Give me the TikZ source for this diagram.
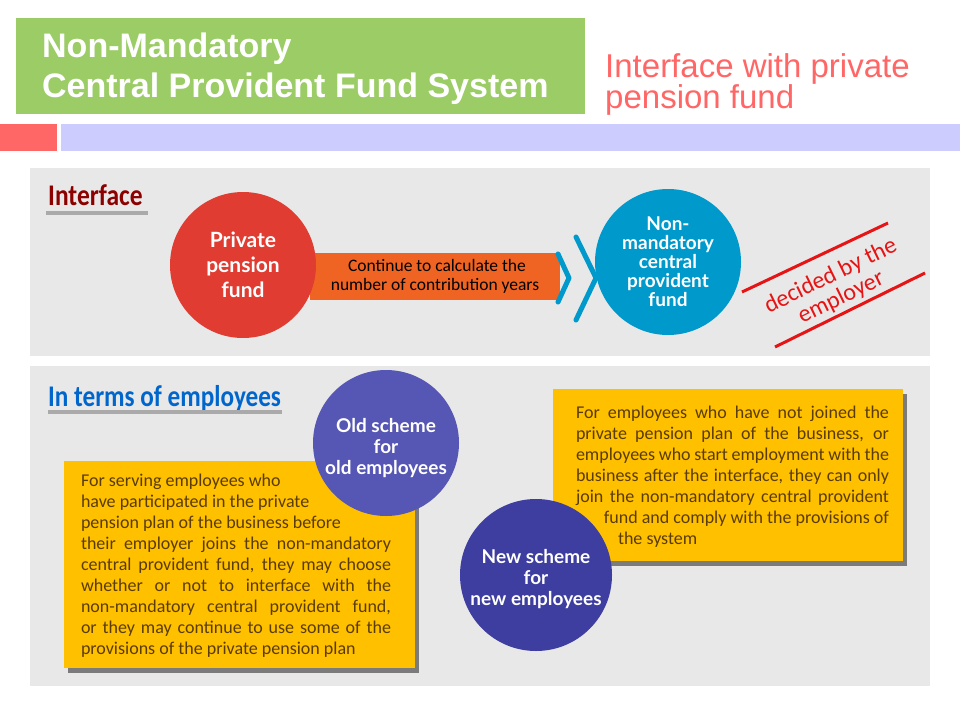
\documentclass[tikz,border=0pt]{standalone}
\usepackage{fontspec}
\setmainfont{Carlito}
\newfontfamily\headfont{Liberation Sans}
\newfontfamily\roundfont{Lato}
\usetikzlibrary{positioning,calc,shadows}
\definecolor{TITLE-GREEN}{RGB}{155,204,102}
\definecolor{TITLE-RED}{RGB}{255,102,102}
\definecolor{BAR-LILAC}{RGB}{204,204,255}
\definecolor{PANEL-GREY}{RGB}{232,232,232}
\definecolor{RULE-GREY}{RGB}{170,170,170}
\definecolor{HEAD-RED}{RGB}{140,0,0}
\definecolor{HEAD-BLUE}{RGB}{0,102,204}
\definecolor{DOT-RED}{RGB}{224,60,50}
\definecolor{DOT-BLUE}{RGB}{0,153,204}
\definecolor{DOT-PURPLE}{RGB}{86,86,180}
\definecolor{DOT-NAVY}{RGB}{62,62,160}
\definecolor{BAR-ORANGE}{RGB}{240,100,35}
\definecolor{NOTE-YELLOW}{RGB}{255,192,0}
\definecolor{NOTE-TEXT}{RGB}{90,60,0}
\definecolor{STAMP-RED}{RGB}{230,20,20}

\begin{document}
\begin{tikzpicture}[x=1pt,y=-1pt,
  bigdot/.style={circle, inner sep=0pt, align=center, text=white},
  dotlabel/.style={inner sep=0pt, align=center, text=white,
    font=\roundfont\bfseries\fontsize{19}{21}\selectfont},
  heading/.style={anchor=north west, inner sep=0pt, font=\bfseries\fontsize{30}{34}\selectfont},
  headrule/.style={RULE-GREY, line width=4pt},
  notebox/.style={fill=NOTE-YELLOW, inner sep=0pt,
    drop shadow={shadow xshift=4pt, shadow yshift=-5pt, fill=black!80, opacity=0.6}},
  notetext/.style={anchor=north west, inner sep=0pt, align=left, text=NOTE-TEXT,
    font=\fontsize{18}{21}\selectfont},
  chevron/.style={DOT-BLUE, line width=5pt, line cap=round, line join=round}]
  \useasboundingbox (0,0) rectangle (960,720);
  \fill[white] (0,0) rectangle (960,720);

  % Title bar
  \fill[TITLE-GREEN] (16,18) rectangle (585,114);
  \node[anchor=north west, inner sep=0pt, align=left, text=white,
    font=\headfont\bfseries\fontsize{34}{40}\selectfont] (title) at (42,33)
    {Non-Mandatory\\Central Provident Fund System};
  \node[anchor=north west, inner sep=0pt, align=left, text=TITLE-RED,
    font=\headfont\fontsize{33}{30}\selectfont] (subtitle) at (605,53)
    {Interface with private\\pension fund};
  \fill[TITLE-RED] (0,124) rectangle (57,151);
  \fill[BAR-LILAC] (61,124) rectangle (960,151);

  % Panel: interface
  \fill[PANEL-GREY] (30,168) rectangle (930,356);
  \node[heading, text=HEAD-RED] (ifhead) at (48,184) {\scalebox{0.85}[1]{Interface}};
  \draw[headrule] (46,213) -- (148,213);

  \node[fill=BAR-ORANGE, minimum width=250pt, minimum height=47pt, inner sep=0pt,
    align=center, font=\fontsize{17.5}{19}\selectfont] (contrib) at (435,276.5)
    {\hspace*{4pt}Continue to calculate the\\number of contribution years};
  \node[bigdot, fill=DOT-RED, minimum size=146pt,
    font=\roundfont\bfseries\fontsize{21}{25}\selectfont] (private) at (243,265)
    {Private\\pension\\fund};
  \node[bigdot, fill=DOT-BLUE, minimum size=146pt,
    font=\roundfont\bfseries\fontsize{19}{19}\selectfont] (cpf) at (668,262)
    {Non-\\mandatory\\central\\provident\\fund};

  \coordinate (c1a) at (558,254);
  \coordinate (c1b) at (569,278);
  \coordinate (c1c) at (558,302);
  \coordinate (c2a) at (576,237);
  \coordinate (c2b) at (596,278);
  \coordinate (c2c) at (576,320);
  \draw[chevron] (c1a) -- (c1b) -- (c1c);
  \draw[chevron] (c2a) -- (c2b) -- (c2c);

  % Stamp
  \coordinate (s1a) at (742,292);
  \coordinate (s1b) at (888,223);
  \coordinate (s2a) at (775,347);
  \coordinate (s2b) at (925,273);
  \draw[STAMP-RED, line width=3pt] (s1a) -- (s1b);
  \draw[STAMP-RED, line width=3pt] (s2a) -- (s2b);
  \node[rotate=26, text=STAMP-RED, align=center, inner sep=0pt,
    font=\fontsize{24}{24}\selectfont] (stamp) at (836,287)
    {decided by the\\employer};

  % Panel: employees
  \fill[PANEL-GREY] (30,366) rectangle (930,686);
  \node[heading, text=HEAD-BLUE] (emphead) at (48,385) {\scalebox{0.84}[1]{In terms of employees}};
  \draw[headrule] (48,412) -- (282,412);

  \node[notebox, minimum width=351pt, minimum height=207pt] (oldnote) at (239.5,564.5) {};
  \node[notetext] (oldtext) at ($(oldnote.north west)+(17,13)$)
    {For serving employees who\\
     have participated in the private\\
     pension plan of the business before\\
     \makebox[310pt][s]{their employer joins the non-mandatory}\\
     \makebox[310pt][s]{central provident fund, they may choose}\\
     \makebox[310pt][s]{whether or not to interface with the}\\
     \makebox[310pt][s]{non-mandatory central provident fund,}\\
     \makebox[310pt][s]{or they may continue to use some of the}\\
     provisions of the private pension plan};
  \node[bigdot, fill=DOT-PURPLE, minimum size=146pt] (olddot) at (386,443) {};
  \node[dotlabel] (oldlabel) at ($(olddot.center)+(0,5)$)
    {Old scheme\\for\\old employees};

  \node[notebox, minimum width=350pt, minimum height=172pt] (newnote) at (728,475) {};
  \node[notetext] (newtext) at ($(newnote.north west)+(23,17)$)
    {\makebox[313pt][s]{For employees who have not joined the}\\
     \makebox[313pt][s]{private pension plan of the business, or}\\
     \makebox[313pt][s]{employees who start employment with the}\\
     \makebox[313pt][s]{business after the interface, they can only}\\
     \makebox[313pt][s]{join the non-mandatory central provident}\\
     \makebox[313pt][r]{fund and comply with the provisions of}\\
     \hspace*{42pt}the system};
  \node[bigdot, fill=DOT-NAVY, minimum size=152pt] (newdot) at (536,575) {};
  \node[dotlabel] (newlabel) at ($(newdot.center)+(0,4)$)
    {New scheme\\for\\new employees};
\end{tikzpicture}
\end{document}
